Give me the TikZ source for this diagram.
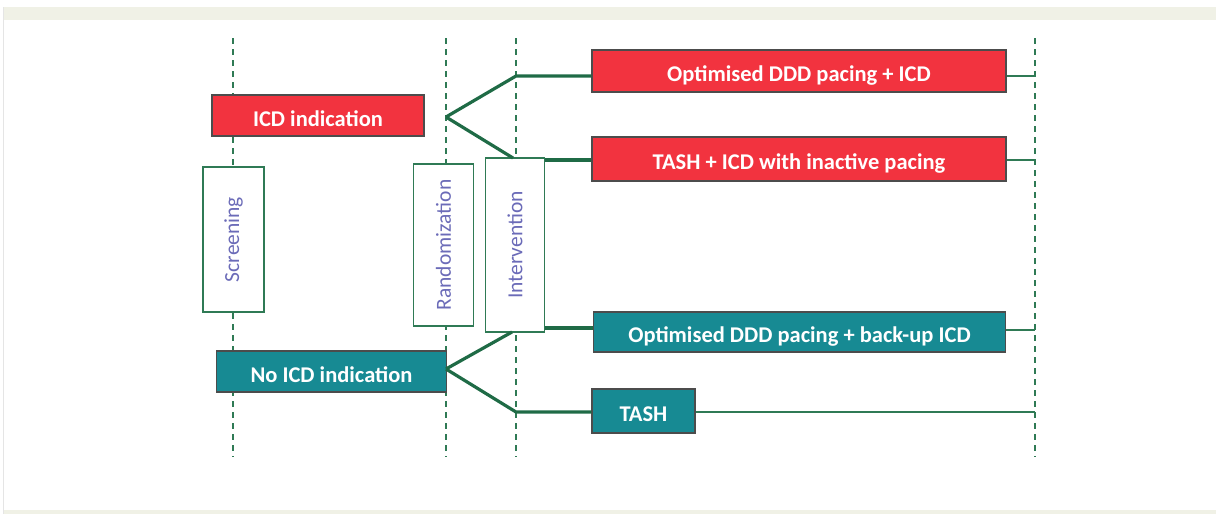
\documentclass[tikz,border=0pt]{standalone}
\usepackage{fontspec}
\setmainfont{Carlito}
\definecolor{armred}{HTML}{F2333F}
\definecolor{armteal}{HTML}{178A93}
\definecolor{linkgreen}{HTML}{1F6B46}
\definecolor{boxgreen}{HTML}{2F7A55}
\definecolor{phasetext}{HTML}{6B6BB8}
\definecolor{bandbeige}{HTML}{F0F1E6}
\begin{document}
\begin{tikzpicture}[x=1pt,y=-1pt,
  armbox/.style={draw=black!70, line width=1.2pt, inner sep=0pt, text=white,
    text height=21pt, text depth=0pt,
    font=\fontsize{22.5}{26}\selectfont\bfseries},
  redarm/.style={armbox, fill=armred},
  tealarm/.style={armbox, fill=armteal},
  phasebox/.style={draw=boxgreen, line width=1.5pt, fill=white, inner sep=0pt,
    rotate=90, text=phasetext, font=\fontsize{21.5}{25}\selectfont},
  timeline/.style={draw=boxgreen, line width=1.4pt, dash pattern=on 6pt off 5pt},
  fork/.style={draw=linkgreen, line width=3.2pt},
  tail/.style={draw=boxgreen, line width=1.5pt}]
\useasboundingbox (0,0) rectangle (1216,514);
% page frame
\fill[bandbeige] (3,7) rectangle (1216,20);
\fill[bandbeige] (3,510) rectangle (1216,514);
\draw[black!10, line width=0.8pt] (3.5,7) -- (3.5,514);
% time lines
\foreach \x/\n in {233/screen, 446/rand, 516/interv, 1035/follow}{
  \coordinate (\n top) at (\x,38);
  \coordinate (\n bot) at (\x,457);
  \draw[timeline] (\n top) -- (\n bot);
}
% phases
\node[phasebox, minimum width=145, minimum height=61] (screening) at (233.5,239.5){Screening};
\node[phasebox, minimum width=162, minimum height=60] (randomization) at (443.5,245){Randomization};
\node[phasebox, minimum width=174, minimum height=59] (intervention) at (515,245){Intervention};
% groups
\node[redarm, minimum width=212, minimum height=41] (icd) at (318,115.5){ICD indication};
\node[tealarm, minimum width=230, minimum height=41] (noicd) at (331.5,371.5){No ICD indication};
% arms
\node[redarm, minimum width=414, minimum height=42] (dddicd) at (799,71){Optimised DDD pacing + ICD};
\node[redarm, minimum width=414, minimum height=44] (tashicd) at (799,159){TASH + ICD with inactive pacing};
\node[tealarm, minimum width=412, minimum height=40] (dddbackup) at (799.5,332){Optimised DDD pacing + back-up ICD};
\node[tealarm, minimum width=103, minimum height=44] (tash) at (643.5,411){TASH};
% forks
\coordinate (forkicd) at (446,117);
\coordinate (forknoicd) at (446,369);
\coordinate (benddddicd) at (516,76);
\coordinate (bendtash) at (516,412);
\draw[fork] (forkicd) -- (benddddicd) -- (benddddicd -| dddicd.west);
\draw[fork] (forkicd) -- (513,158);
\draw[fork] (intervention.south |- tashicd.west) ++(0,1) -- (tashicd.west |- 0,160);
\draw[fork] (forknoicd) -- (512,332);
\draw[fork] (545,328) -- (dddbackup.west |- 0,328);
\draw[fork] (forknoicd) -- (bendtash) -- (bendtash -| tash.west);
% follow-up
\draw[tail] (dddicd.east |- 0,76) -- (followtop |- 0,76);
\draw[tail] (tashicd.east |- 0,160) -- (followtop |- 0,160);
\draw[tail] (dddbackup.east |- 0,330) -- (followtop |- 0,330);
\draw[tail] (tash.east |- 0,412) -- (followtop |- 0,412);
\end{tikzpicture}
\end{document}
